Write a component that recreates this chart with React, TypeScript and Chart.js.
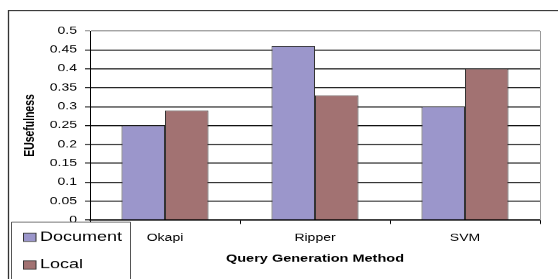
import React, { useEffect, useRef } from "react";
import { Chart, registerables } from "chart.js";

Chart.register(...registerables);

const categories = ["Okapi", "Ripper", "SVM"];
const documentValues = [0.25, 0.46, 0.3];
const localValues = [0.29, 0.33, 0.4];
const seriesNames = ["Document", "Local"];
const yTickLabels = ["0", "0.05", "0.1", "0.15", "0.2", "0.25", "0.3", "0.35", "0.4", "0.45", "0.5"];
const xTitle = "Query Generation Method";
const yTitle = "EUsefulness";

const W = 558;
const SCREEN_H = 279;
const K = 0.719; // vertical squeeze of the original picture
const H = Math.round(SCREEN_H / K);
const FONT = "'Liberation Sans', Arial, sans-serif";

const framePlugin = {
  id: "framePlugin",
  afterDraw(chart: any) {
    const ctx = chart.ctx;
    const ca = chart.chartArea;
    ctx.save();
    // right border of the plot area
    ctx.strokeStyle = "#9a9a9a";
    ctx.lineWidth = 1;
    ctx.beginPath();
    ctx.moveTo(ca.right + 0.5, ca.top);
    ctx.lineTo(ca.right + 0.5, ca.bottom);
    ctx.stroke();
    // outer frame (only top and left visible)
    ctx.strokeStyle = "#333";
    ctx.lineWidth = 1.3;
    ctx.beginPath();
    ctx.moveTo(8.5, H + 2);
    ctx.lineTo(8.5, 14.6);
    ctx.lineTo(W + 2, 14.6);
    ctx.stroke();
    // legend box
    const lx = 11.5, ly = 309, lw = 119;
    ctx.fillStyle = "#fff";
    ctx.fillRect(lx, ly, lw, H - ly + 5);
    ctx.strokeStyle = "#555";
    ctx.lineWidth = 1;
    ctx.beginPath();
    ctx.moveTo(lx, H + 2);
    ctx.lineTo(lx, ly);
    ctx.lineTo(lx + lw, ly);
    ctx.lineTo(lx + lw, H + 2);
    ctx.stroke();
    const centers = [330, 368.5];
    chart.data.datasets.forEach((ds: any, i: number) => {
      const cy = centers[i];
      ctx.fillStyle = ds.backgroundColor;
      ctx.fillRect(23, cy - 5.75, 13, 11.5);
      ctx.strokeStyle = "#333";
      ctx.lineWidth = 1;
      ctx.strokeRect(23.5, cy - 5.75, 12.5, 11.5);
      ctx.fillStyle = "#000";
      ctx.font = `18px ${FONT}`;
      ctx.textBaseline = "middle";
      ctx.textAlign = "left";
      ctx.fillText(ds.label, 40, cy);
    });
    ctx.restore();
  },
};

export default function App() {
  const ref = useRef<HTMLCanvasElement>(null);
  useEffect(() => {
    if (!ref.current) return;
    Chart.defaults.font.family = FONT;
    const chart = new Chart(ref.current, {
      type: "bar",
      data: {
        labels: categories,
        datasets: [
          {
            label: seriesNames[0],
            data: documentValues,
            backgroundColor: "#9b96cb",
            borderColor: "#333",
            borderWidth: 1,
            categoryPercentage: 0.58,
            barPercentage: 1,
          },
          {
            label: seriesNames[1],
            data: localValues,
            backgroundColor: "#a27272",
            borderColor: "#333",
            borderWidth: 1,
            categoryPercentage: 0.58,
            barPercentage: 1,
          },
        ],
      },
      options: {
        responsive: false,
        animation: false,
        layout: { padding: { top: 43, right: 18, left: 0, bottom: 0 } },
        plugins: { legend: { display: false }, tooltip: { enabled: false } },
        scales: {
          x: {
            offset: true,
            grid: {
              offset: true,
              drawOnChartArea: false,
              drawTicks: true,
              tickLength: 5.5,
              color: "#000",
              lineWidth: 1,
            },
            border: { display: true, color: "#000", width: 1.4 },
            ticks: {
              color: "#000",
              font: { size: 14 },
              padding: 11,
              maxRotation: 0,
            },
            title: {
              display: true,
              text: xTitle,
              color: "#000",
              font: { size: 14.5, weight: "bold" },
              padding: { top: 0, bottom: 19 },
            },
            afterFit: (s: any) => {
              s.height = H - 306;
            },
          },
          y: {
            min: 0,
            max: 0.5,
            grid: {
              color: (c: any) => (c.tick && c.tick.value >= 0.499 ? "#9a9a9a" : "#111"),
              lineWidth: 1.4,
              drawTicks: true,
              tickLength: 5,
            },
            border: { display: true, color: "#000", width: 1 },
            ticks: {
              stepSize: 0.05,
              color: "#000",
              font: { size: 14 },
              padding: 8,
              callback: (_v: any, i: number) => yTickLabels[i],
            },
            title: {
              display: true,
              text: yTitle,
              color: "#000",
              font: { size: 14.5, weight: "bold" },
              padding: { top: 21, bottom: 0 },
            },
            afterFit: (s: any) => {
              s.width = 90;
            },
          },
        },
      },
      plugins: [framePlugin],
    });
    return () => chart.destroy();
  }, []);

  return (
    <div style={{ position: "fixed", left: 0, top: 0, width: W, height: SCREEN_H, overflow: "hidden", background: "#fff" }}>
      <div style={{ width: W, height: H, transform: `scaleY(${K})`, transformOrigin: "0 0" }}>
        <canvas ref={ref} width={W} height={H} style={{ display: "block" }} />
      </div>
    </div>
  );
}
